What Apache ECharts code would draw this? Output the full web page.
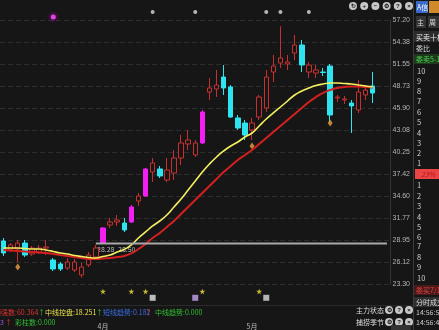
<!DOCTYPE html>
<html><head><meta charset="utf-8">
<script src="https://cdn.jsdelivr.net/npm/echarts@6/dist/echarts.min.js"></script>
<style>html,body{margin:0;padding:0;background:#161616;overflow:hidden}#c{width:439px;height:330px}</style>
</head><body><div id="c"></div>
<script>
// ---------- data ----------
// [open, close, low, high]
const candles = [
 [28.82,27.28,26.90,29.21],[27.67,28.31,27.41,28.56],[27.79,28.56,26.12,28.95],[28.56,27.02,26.77,28.95],
 [27.15,27.92,26.90,28.18],[27.41,27.92,27.15,28.31],[27.92,28.05,27.02,28.95],[26.38,25.23,24.97,26.64],
 [25.87,25.23,24.97,26.12],[25.35,26.12,25.10,26.64],[25.10,26.12,24.84,26.51],[24.46,25.48,24.11,26.00],
 [25.74,27.02,25.48,27.41],[26.77,27.92,26.51,28.31],[28.56,30.49,28.44,30.62],[30.88,31.26,30.49,31.78],
 [31.26,31.52,30.75,32.16],[31.13,30.24,29.98,31.78],[31.26,33.19,31.13,33.44],[33.96,34.60,33.32,34.99],
 [34.60,38.07,34.47,38.20],[37.68,38.84,36.40,39.48],[38.07,37.17,36.91,38.45],[36.65,37.94,36.40,39.48],
 [37.55,39.48,36.65,40.51],[39.48,41.41,38.58,42.43],[41.28,41.79,40.51,43.08],[39.87,41.41,39.61,41.79],
 [41.41,45.39,41.28,45.64],[47.95,48.47,46.93,49.75],[48.34,48.85,47.31,50.78],[49.88,48.47,47.57,51.42],
 [48.60,44.74,44.62,48.85],[44.62,43.33,43.08,45.00],[43.97,42.43,41.79,44.36],[43.08,43.97,41.79,44.62],
 [44.74,47.31,44.36,47.57],[45.90,49.88,45.39,50.78],[50.52,51.29,49.24,52.71],[51.68,52.32,51.04,56.39],
 [51.55,51.81,50.78,52.71],[52.96,53.99,52.06,55.27],[53.99,51.42,50.52,54.63],[50.52,51.42,49.75,51.81],
 [50.39,50.78,49.75,51.42],[50.52,50.46,50.01,51.04],[51.29,45.00,44.10,51.55],[47.18,47.31,46.67,47.57],
 [46.93,47.06,46.41,47.44],[46.54,46.16,42.69,46.93],[45.64,47.95,45.26,49.50],[47.57,48.21,46.93,48.85],
 [48.73,47.83,46.54,50.52]
];
const bigUpDays = [14,18,20,28];
const maFast = [27.92,27.92,27.92,27.86,27.79,27.79,27.67,27.47,27.28,27.15,26.96,26.83,26.70,26.64,26.83,27.02,27.41,27.73,28.31,29.21,29.98,30.75,31.39,32.16,33.19,34.21,35.37,36.53,37.68,38.71,39.61,40.38,41.02,41.53,42.18,42.69,43.59,44.49,45.26,46.03,46.80,47.57,48.08,48.47,48.79,48.98,49.11,49.11,49.05,48.98,48.85,48.73,48.60];
const maSlow = [27.67,27.60,27.54,27.47,27.41,27.34,27.28,27.15,27.02,26.90,26.77,26.64,26.51,26.51,26.57,26.64,26.77,26.90,27.22,27.79,28.44,29.21,29.85,30.62,31.39,32.29,33.19,34.09,34.99,35.88,36.78,37.68,38.45,39.22,39.87,40.51,41.28,42.05,42.82,43.59,44.36,45.13,45.90,46.67,47.31,47.83,48.21,48.47,48.60,48.66,48.66,48.60,48.53];
const yTickLabels = ['23.30','26.12','28.95','31.77','34.60','37.42','40.25','43.08','45.90','48.73','51.55','54.38','57.20'];
const yMin = 23.30, yMax = 57.20, yStep = 2.825;
const slotCount = 55;
const supportLevel = 28.50, supportFrom = 13;
const diamondDays = [2,35,46];
const diamondValues = [25.48,41.02,43.97];
const topDotDays = [21,27,37,39,43];
const topDotValue = 58.23;
const alertDay = 7, alertValue = 57.59;
const starDays = [14,18,20,28,36];
const squareDays = [21,27,37];
const highDay = 39, highValue = 56.39;
const lowDay = 11, lowValue = 24.11;
const monthStarts = [14,35];
const monthNames = ['4月','5月'];

// ---------- chart ----------
const BG = '#161616', MAG = '#f21ef2', CYAN = '#2ee4f0', RED = '#c83030';
const CJK = '"Noto Sans CJK SC", sans-serif';
const cats = Array.from({length: slotCount}, (_, i) => String(i));
const candleData = candles.map((c, i) => bigUpDays.includes(i)
  ? {value: c, itemStyle: {color: MAG, borderColor: MAG}} : c);
const supportData = cats.map((_, i) => i >= supportFrom ? supportLevel : null);
const squareColors = ['#e6e6e6', '#c9a6f2', '#dcdcdc'];

const chart = echarts.init(document.getElementById('c'), null, {renderer: 'canvas'});

function circIcon(x, y, ch) {
  return [{type:'circle', shape:{cx:x, cy:y, r:4}, style:{fill:'#c8c8c8'}},
          {type:'text', x:x, y:y, style:{text:ch, fill:'#161616', font:'bold 6px sans-serif', align:'center', verticalAlign:'middle'}}];
}
function txt(x, y, s, fill, size, extra) {
  return Object.assign({type:'text', x:x, y:y, style:{text:s, fill:fill, font:(size||7)+'px '+CJK, verticalAlign:'middle'}}, extra||{});
}
const graphics = [];
graphics.push({type:'line', shape:{x1:413.5, y1:0, x2:413.5, y2:330}, style:{stroke:'#3a3a3a', lineWidth:1}});
['↻','+','−','⚙','?','×'].forEach((c, k) => graphics.push(...circIcon(353 + k*11.2, 6, c)));
// right panel
graphics.push({type:'rect', shape:{x:416, y:1, width:12, height:12}, style:{fill:'#3a6ac8'}});
graphics.push(txt(417, 7, 'A信', '#fff', 7));
graphics.push({type:'rect', shape:{x:429, y:1, width:10, height:12}, style:{fill:'#d08a2a'}});
graphics.push({type:'rect', shape:{x:416, y:16, width:10, height:12}, style:{fill:'#333'}});
graphics.push(txt(417, 22, '主', '#ddd', 7));
graphics.push({type:'rect', shape:{x:428, y:16, width:11, height:12}, style:{fill:'#333'}});
graphics.push(txt(429, 22, '周', '#ddd', 7));
graphics.push({type:'rect', shape:{x:414, y:31, width:25, height:11}, style:{fill:'#2c2c2c'}});
graphics.push(txt(416, 37, '买卖十档', '#eee', 7));
graphics.push(txt(416, 48, '委比', '#ddd', 7));
graphics.push({type:'rect', shape:{x:414, y:54, width:25, height:10}, style:{fill:'#1d3a1d'}});
graphics.push(txt(416, 59.5, '委卖5-10', '#4cd04c', 7));
const sellY = [71,81,91,101,112,122,133,143,153,163];
sellY.forEach((y, k) => graphics.push(txt(417, y, String(10-k), '#d0d0d0', 7.5)));
graphics.push({type:'rect', shape:{x:415, y:169, width:24, height:10}, style:{fill:'#ea4444'}});
graphics.push(txt(421, 174.5, '23%', '#b01818', 7, {style:{text:'23%', fill:'#b01818', font:'italic 7px '+CJK, verticalAlign:'middle'}}));
const buyY = [185,196,206,217,227,237,246,257,267,278];
buyY.forEach((y, k) => graphics.push(txt(417, y, String(k+1), '#d0d0d0', 7.5)));
graphics.push({type:'rect', shape:{x:414, y:285, width:25, height:10}, style:{fill:'#4a1a1a'}});
graphics.push(txt(416, 290, '委买7/10', '#e04040', 7));
graphics.push({type:'rect', shape:{x:414, y:297, width:25, height:10}, style:{fill:'#2f2f2f'}});
graphics.push(txt(416, 302, '分时成交', '#ddd', 7));
graphics.push(txt(416, 312, '14:56:51', '#ccc', 7));
graphics.push(txt(416, 322, '14:56:48', '#ccc', 7));
// bottom-right buttons
graphics.push(txt(384, 310, '主力状态', '#ddd', 7, {style:{text:'主力状态', fill:'#ddd', font:'7px '+CJK, verticalAlign:'middle', align:'right'}}));
graphics.push(txt(384, 322, '捕捞季节', '#ddd', 7, {style:{text:'捕捞季节', fill:'#ddd', font:'7px '+CJK, verticalAlign:'middle', align:'right'}}));
[310, 322].forEach(y => ['⚙','?','×'].forEach((c, k) => graphics.push(...circIcon(389 + k*10, y, c))));
graphics.push({type:'rect', shape:{x:391, y:325, width:20, height:6}, style:{fill:'#333'}});
// indicator text
graphics.push({type:'line', shape:{x1:0, y1:305.5, x2:413, y2:305.5}, style:{stroke:'#2a2a2a'}});
graphics.push(txt(-6, 312, '顶强数:60.364', '#e03232', 7));
graphics.push(txt(38, 312, '↑', '#32c032', 7));
graphics.push(txt(45, 312, '中线控盘:18.251', '#e8e04a', 7));
graphics.push(txt(96, 312, '↑', '#32c032', 7));
graphics.push(txt(103, 312, '短线趋势:0.182', '#3a6ee8', 7));
graphics.push(txt(145, 312, '↑', '#e03232', 7));
graphics.push(txt(155, 312, '中线趋势:0.000', '#32c032', 7));
graphics.push(txt(0, 322, '3', '#9a5ae0', 7));
graphics.push(txt(5, 322, '↑', '#e03232', 7));
graphics.push(txt(15, 322, '彩柱数:0.000', '#32c032', 7));
// small line label on the support line
graphics.push(txt(97, 249, '28.28', '#bbb', 7));
graphics.push(txt(118, 249, '28.50', '#bbb', 7));

const option = {
  backgroundColor: BG,
  animation: false,
  grid: [
    {left: 0, top: 20, width: 390.5, height: 264},
    {left: 0, top: 285, width: 390.5, height: 20}
  ],
  xAxis: [
    {type:'category', gridIndex:0, data:cats, show:false},
    {type:'category', gridIndex:1, data:cats, axisLine:{show:false}, axisTick:{show:false},
     axisLabel:{interval:0, margin:22, color:'#bbb', fontSize:7, fontFamily:CJK,
       formatter:(v, i) => { const k = monthStarts.indexOf(i); return k >= 0 ? monthNames[k] : ''; }}}
  ],
  yAxis: [
    {type:'value', gridIndex:0, position:'right', min:yMin, max:yMax, interval:yStep,
     axisLine:{show:true, lineStyle:{color:'#333'}}, axisTick:{show:false},
     axisLabel:{margin:2, color:'#b4b4b4', fontSize:7, fontFamily:'"Liberation Sans", sans-serif',
       formatter:(v) => yTickLabels[Math.round((v - yMin) / yStep)]},
     splitLine:{lineStyle:{color:'#2c2c2c', type:[5,3]}}},
    {type:'value', gridIndex:1, min:0, max:20, show:false}
  ],
  series: [
    {type:'candlestick', xAxisIndex:0, yAxisIndex:0, data:candleData, barWidth:5,
     itemStyle:{color:BG, color0:CYAN, borderColor:RED, borderColor0:CYAN, borderWidth:1}},
    {type:'line', xAxisIndex:0, yAxisIndex:0, data:maSlow, smooth:true, showSymbol:false,
     lineStyle:{color:'#d42020', width:2}},
    {type:'line', xAxisIndex:0, yAxisIndex:0, data:maFast, smooth:true, showSymbol:false,
     lineStyle:{color:'#f4f060', width:1.6}},
    {type:'line', xAxisIndex:0, yAxisIndex:0, data:supportData, showSymbol:false,
     lineStyle:{color:'#a8a8a8', width:2}},
    {type:'scatter', xAxisIndex:0, yAxisIndex:0, symbol:'diamond', symbolSize:[5,7],
     data:diamondDays.map((d, k) => [d, diamondValues[k]]), itemStyle:{color:'#f0a040'}},
    {type:'scatter', xAxisIndex:0, yAxisIndex:0, clip:false, symbolSize:4,
     data:topDotDays.map(d => [d, topDotValue]), itemStyle:{color:'#dddddd'}},
    {type:'scatter', xAxisIndex:0, yAxisIndex:0, clip:false, symbolSize:5,
     data:[[alertDay, alertValue]], itemStyle:{color:'#ff50ff', shadowBlur:4, shadowColor:'#ff00ff'}},
    {type:'scatter', xAxisIndex:0, yAxisIndex:0, symbol:'none',
     data:[[highDay, highValue]],
     label:{show:true, position:'left', distance:1, formatter:() => highValue.toFixed(2), color:'#bbb', fontSize:7}},
    {type:'scatter', xAxisIndex:0, yAxisIndex:0, symbol:'none',
     data:[[lowDay, lowValue]],
     label:{show:true, position:'bottom', offset:[-8,-1], formatter:() => lowValue.toFixed(2), color:'#bbb', fontSize:7}},
    {type:'scatter', xAxisIndex:1, yAxisIndex:1, symbol:'path://M50,0 L61,35 L98,35 L68,57 L79,91 L50,70 L21,91 L32,57 L2,35 L39,35 Z',
     symbolSize:6, data:starDays.map(d => [d, 12]), itemStyle:{color:'#f2e040'}},
    {type:'scatter', xAxisIndex:1, yAxisIndex:1, symbol:'rect', symbolSize:6,
     data:squareDays.map((d, k) => ({value:[d, 4], itemStyle:{color:squareColors[k]}}))}
  ],
  graphic: graphics
};
chart.setOption(option);
</script></body></html>
